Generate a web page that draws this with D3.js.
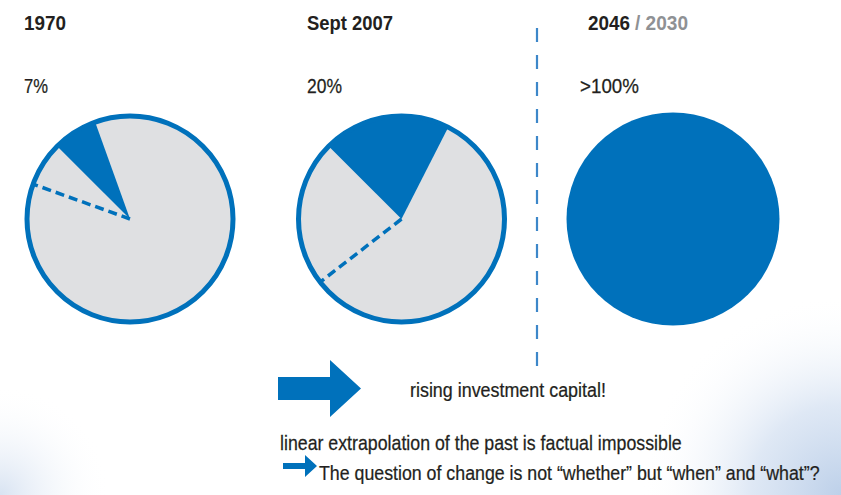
<!DOCTYPE html>
<html>
<head>
<meta charset="utf-8">
<script src="https://cdn.jsdelivr.net/npm/d3@7/dist/d3.min.js"></script>
<style>
  html, body { margin: 0; padding: 0; background: #fff; }
  svg { display: block; }
  text { font-family: 'Liberation Sans', 'DejaVu Sans', sans-serif; font-stretch: condensed; fill: #231f20; }
</style>
</head>
<body>
<script>
// ---- data ----
const categories = ["1970", "Sept 2007", "2046"];
const altLabels = ["", "", "/ 2030"];
const shareLabels = ["7%", "20%", ">100%"];
const shares = [7, 20, 100];            // percent of the pie in blue
const extrapolated = [7, 23, 0];        // dashed marker, percent before wedge start
const wedgeStartDeg = -45;              // wedge begins at 10:30 o'clock
const notes = ["rising investment capital!",
               "linear extrapolation of the past is factual impossible",
               "The question of change is not \u201cwhether\u201d but \u201cwhen\u201d and \u201cwhat\u201d?"];

// ---- layout ----
const W = 841, H = 495;
const blue = "#0071bb", grey = "#dfe0e2";
const svg = d3.select("body").append("svg").attr("width", W).attr("height", H);

const defs = svg.append("defs");
const g1 = defs.append("radialGradient").attr("id", "bgR")
  .attr("gradientUnits", "userSpaceOnUse").attr("cx", W).attr("cy", H).attr("r", 200);
g1.append("stop").attr("offset", 0).attr("stop-color", "#bdd0e9").attr("stop-opacity", 1);
g1.append("stop").attr("offset", 0.45).attr("stop-color", "#d9e4f3").attr("stop-opacity", 0.85);
g1.append("stop").attr("offset", 1).attr("stop-color", "#ffffff").attr("stop-opacity", 0);
const g2 = defs.append("radialGradient").attr("id", "bgL")
  .attr("gradientUnits", "userSpaceOnUse").attr("cx", 0).attr("cy", H).attr("r", 110);
g2.append("stop").attr("offset", 0).attr("stop-color", "#d8e3f2").attr("stop-opacity", 1);
g2.append("stop").attr("offset", 1).attr("stop-color", "#ffffff").attr("stop-opacity", 0);

svg.append("rect").attr("width", W).attr("height", H).attr("fill", "#fff");
svg.append("rect").attr("width", W).attr("height", H).attr("fill", "url(#bgR)");
svg.append("rect").attr("width", W).attr("height", H).attr("fill", "url(#bgL)");

const x = d3.scalePoint().domain(categories).range([130, 673]);
const cy = 219;
const r = 103;
const angle = d3.scaleLinear().domain([0, 100]).range([0, 2 * Math.PI]);
const start = wedgeStartDeg * Math.PI / 180;
const titleX = [24, 307, 588], titleW = [42, 86, 42];
const altX = 635, altW = 53;
const labelX = [24, 307, 580], labelW = [24, 35, 59];

// text fitted to the reference width by a horizontal scale
function fitted(x0, y0, str, size, width, bold, color) {
  const t = svg.append("text").attr("x", 0).attr("y", 0)
    .attr("font-size", size).text(str);
  if (bold) t.attr("font-weight", "bold");
  else t.style("stroke", "#231f20").style("stroke-width", 0.25);
  if (color) t.style("fill", color);
  const natural = t.node().getComputedTextLength();
  const sx = natural > 0 ? width / natural : 1;
  t.attr("transform", `translate(${x0},${y0}) scale(${sx},1)`);
  return t;
}

const arc = d3.arc();

categories.forEach((c, i) => {
  const g = svg.append("g").attr("transform", `translate(${x(c)},${cy})`);
  if (shares[i] >= 100) {
    g.append("circle").attr("r", r + 3.5).attr("fill", blue);
  } else {
    g.append("circle").attr("r", r).attr("fill", grey);
    g.append("path")
      .attr("d", arc({innerRadius: 0, outerRadius: r, startAngle: start, endAngle: start + angle(shares[i])}))
      .attr("fill", blue);
    const a = start - angle(extrapolated[i]);
    g.append("line")
      .attr("x1", 0).attr("y1", 0)
      .attr("x2", r * Math.sin(a)).attr("y2", -r * Math.cos(a))
      .attr("stroke", blue).attr("stroke-width", 3.5)
      .attr("stroke-dasharray", "9,5");
    g.append("circle").attr("r", r).attr("fill", "none")
      .attr("stroke", blue).attr("stroke-width", 5);
  }
  fitted(titleX[i], 30, c, 21, titleW[i], true);
  if (altLabels[i]) fitted(altX, 30, altLabels[i], 21, altW, true, "#8f9194");
  fitted(labelX[i], 93, shareLabels[i], 21, labelW[i], false);
});

// vertical dashed divider
svg.append("line").attr("x1", 537).attr("x2", 537).attr("y1", 28).attr("y2", 372)
  .attr("stroke", "#3d87c9").attr("stroke-width", 2.2).attr("stroke-dasharray", "14,13");

// big arrow
const big = d3.path();
big.moveTo(278, 377); big.lineTo(330, 377); big.lineTo(330, 360); big.lineTo(361, 388.5);
big.lineTo(330, 417); big.lineTo(330, 400); big.lineTo(278, 400); big.closePath();
svg.append("path").attr("d", big.toString()).attr("fill", blue);

// small arrow
const small = d3.path();
small.moveTo(283, 463); small.lineTo(305, 463); small.lineTo(305, 455); small.lineTo(317, 466);
small.lineTo(305, 477); small.lineTo(305, 469); small.lineTo(283, 469); small.closePath();
svg.append("path").attr("d", small.toString()).attr("fill", blue);

const noteX = [410, 280, 319], noteY = [397, 450, 480], noteW = [196, 402, 501];
notes.forEach((n, i) => fitted(noteX[i], noteY[i], n, 21, noteW[i], false));
</script>
</body>
</html>
